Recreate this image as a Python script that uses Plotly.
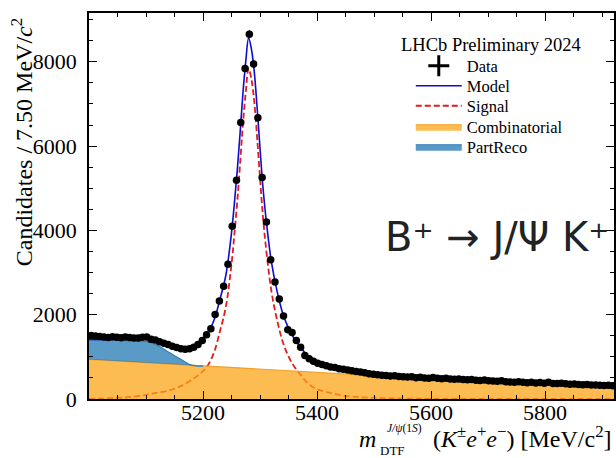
import plotly.graph_objects as go
import numpy as np

# ---------------- data ----------------
bin_start = 5003.75   # centre of first bin [MeV/c^2]
bin_width = 7.5
counts = [1508, 1496, 1480, 1470, 1460, 1475, 1465, 1455, 1470, 1460,
          1445, 1450, 1465, 1470, 1420, 1400, 1360, 1320, 1290, 1250,
          1220, 1195, 1180, 1192, 1230, 1295, 1390, 1525, 1667, 2007,
          2323, 2672, 3195, 4097, 5190, 6561, 7843, 8651, 7945, 6670,
          5254, 4200, 3306, 2774, 2370, 1970, 1640, 1580, 1390, 1230,
          1033, 955, 898, 850, 820, 790, 760, 745, 720, 705,
          690, 670, 650, 640, 620, 600, 585, 575, 565, 560,
          545, 550, 535, 530, 520, 525, 505, 515, 500, 495,
          510, 490, 480, 495, 475, 470, 475, 460, 455, 460,
          445, 440, 450, 430, 425, 420, 430, 410, 405, 400,
          410, 395, 385, 395, 380, 390, 375, 395, 370, 365,
          375, 360, 350, 355, 345, 340, 345, 330, 335, 325,
          320, 325, 315]

mass_grid = [5000, 5025, 5050, 5075, 5100, 5120, 5140, 5160, 5180,
             5200, 5210, 5220, 5230, 5240, 5250,
             5255, 5260, 5265, 5270, 5275, 5280, 5285, 5290, 5295, 5300, 5305,
             5310, 5320, 5330, 5340, 5350, 5360, 5370, 5380, 5390, 5400,
             5425, 5450, 5500, 5550, 5600, 5650, 5700, 5750, 5800, 5850, 5900, 5921]
comb = [940, 920, 900, 880, 860, 844, 828, 812, 796,
        780, 772, 765, 757, 750, 742,
        738, 735, 731, 727, 724, 720, 716, 713, 709, 705, 702,
        698, 691, 684, 677, 670, 663, 656, 649, 642, 635,
        614, 594, 556, 525, 497, 466, 436, 406, 378, 351, 326, 316]
partreco = [470, 480, 490, 500, 505, 431, 282, 138, 8,
            0, 0, 0, 0, 0, 0,
            0, 0, 0, 0, 0, 0, 0, 0, 0, 0, 0,
            0, 0, 0, 0, 0, 0, 0, 0, 0, 0,
            0, 0, 0, 0, 0, 0, 0, 0, 0, 0, 0, 0]
signal = [5, 10, 25, 50, 100, 150, 200, 300, 450,
          660, 830, 1135, 1620, 2180, 3200,
          3900, 4670, 5570, 6520, 7280, 7840, 7580, 7040, 6190, 5250, 4350,
          3650, 2560, 1870, 1350, 1010, 770, 595, 430, 310, 230,
          140, 75, 25, 10, 4, 2, 1, 0, 0, 0, 0, 0]

x_tick_vals = [5200, 5400, 5600, 5800]
y_tick_vals = [0, 2000, 4000, 6000, 8000]

# ---------------- geometry ----------------
W, H = 616, 458
L, R, T, B = 89, 0, 13, 59
PW, PH = W - L - R, H - T - B


def pxx(x):
    return (x - L) / PW


def pxy(y):
    return (H - B - y) / PH


SERIF = "Liberation Serif"
LEG_FONT = dict(family=SERIF, size=16.5, color="black")

fig = go.Figure()

# signal (under the background fills)
fig.add_trace(go.Scatter(
    x=mass_grid, y=signal, mode="lines", name="Signal", legend="legend3",
    line=dict(color="#e41a1c", width=1.8, dash="6px,3px", shape="spline")))

# combinatorial
fig.add_trace(go.Scatter(
    x=mass_grid, y=comb, mode="lines", name="Combinatorial", legend="legend4",
    fill="tozeroy", fillcolor="rgba(252,165,20,0.74)",
    line=dict(color="rgb(244,160,40)", width=1.2)))

# part-reco stacked on top of combinatorial
n_pr = 10
comb_arr = np.array(comb, dtype=float)
pr_arr = np.array(partreco, dtype=float)
sig_arr = np.array(signal, dtype=float)
fig.add_trace(go.Scatter(
    x=mass_grid[:n_pr], y=comb[:n_pr], mode="lines", showlegend=False,
    hoverinfo="skip", line=dict(width=0, color="rgba(0,0,0,0)")))
fig.add_trace(go.Scatter(
    x=mass_grid[:n_pr], y=(comb_arr + pr_arr)[:n_pr].tolist(), mode="lines",
    name="PartReco", legend="legend5", fill="tonexty",
    fillcolor="rgba(31,119,180,0.74)",
    line=dict(color="rgb(50,125,185)", width=1.2, shape="spline")))

# total model
fig.add_trace(go.Scatter(
    x=mass_grid, y=(comb_arr + pr_arr + sig_arr).tolist(), mode="lines",
    name="Model", legend="legend2",
    line=dict(color="#0c0cd2", width=1.6, shape="spline")))

# data
fig.add_trace(go.Scatter(
    x0=bin_start, dx=bin_width, y=counts, mode="markers", showlegend=False,
    marker=dict(color="black", size=7.5),
    error_y=dict(type="sqrt", color="black", thickness=1.5, width=0),
    error_x=dict(type="constant", value=bin_width / 2, color="black",
                 thickness=1.5, width=0)))
# legend entry for data
fig.add_trace(go.Scatter(
    x=[None], y=[None], mode="markers", name="Data", legend="legend",
    marker=dict(symbol="cross-thin", size=15, color="black",
                line=dict(color="black", width=3))))

axis_common = dict(
    showline=True, linecolor="black", linewidth=1.5, mirror="allticks",
    ticks="inside", ticklen=8, tickwidth=1.3, tickcolor="black",
    showgrid=False, zeroline=False,
    tickfont=dict(family=SERIF, size=22, color="black"),
)


def leg(ypix):
    return dict(x=pxx(412), y=pxy(ypix), xanchor="left", yanchor="middle",
                bgcolor="rgba(0,0,0,0)", font=LEG_FONT, itemwidth=46,
                borderwidth=0)


fig.update_layout(
    width=W, height=H, autosize=False,
    margin=dict(l=L, r=R, t=T, b=B),
    paper_bgcolor="white", plot_bgcolor="white",
    xaxis=dict(range=[5000, 5921], tickvals=x_tick_vals,
               minor=dict(ticks="inside", ticklen=4, tickwidth=1.1,
                          tick0=5000, dtick=50, tickcolor="black"),
               ticklabelstandoff=-7, **axis_common),
    yaxis=dict(range=[0, 9157], tickvals=y_tick_vals,
               minor=dict(ticks="inside", ticklen=4, tickwidth=1.1,
                          tick0=0, dtick=500, tickcolor="black"),
               ticklabelstandoff=6, **axis_common),
    legend=leg(66), legend2=leg(86), legend3=leg(106),
    legend4=leg(127), legend5=leg(147),
    showlegend=True,
)

ann = []
# legend header
ann.append(dict(text="LHCb Preliminary 2024", x=pxx(493), y=pxy(45),
                xanchor="center", yanchor="middle",
                font=dict(family=SERIF, size=18.5, color="black")))
# decay label
ann.append(dict(text="B⁺ → J/Ψ K⁺", x=pxx(384), y=pxy(237),
                xanchor="left", yanchor="middle",
                font=dict(family="DejaVu Sans", size=40, color="#222222")))
# y title
ann.append(dict(text="Candidates / 7.50 MeV/<i>c</i><sup>2</sup>",
                x=pxx(22), y=pxy(16), xanchor="center", yanchor="top",
                textangle=-90,
                font=dict(family=SERIF, size=24, color="black")))
# x title pieces
ann.append(dict(text="(<i>K</i><sup>±</sup><i>e</i><sup>+</sup><i>e</i><sup>−</sup>) [MeV/c<sup>2</sup>]",
                x=1.0, y=pxy(437), xanchor="right", yanchor="middle",
                font=dict(family=SERIF, size=24, color="black")))
ann.append(dict(text="<i>m</i>", x=pxx(379), y=pxy(439), xanchor="right",
                yanchor="middle", font=dict(family=SERIF, size=24, color="black")))
ann.append(dict(text="DTF", x=pxx(379), y=pxy(450), xanchor="left",
                yanchor="middle", font=dict(family=SERIF, size=13, color="black")))
ann.append(dict(text="<i>J/ψ</i>(1<i>S</i>)", x=pxx(386), y=pxy(428),
                xanchor="left", yanchor="middle",
                font=dict(family=SERIF, size=11.5, color="black")))
for a in ann:
    a.update(xref="paper", yref="paper", showarrow=False)
fig.update_layout(annotations=ann)

fig.write_html("out.html")
